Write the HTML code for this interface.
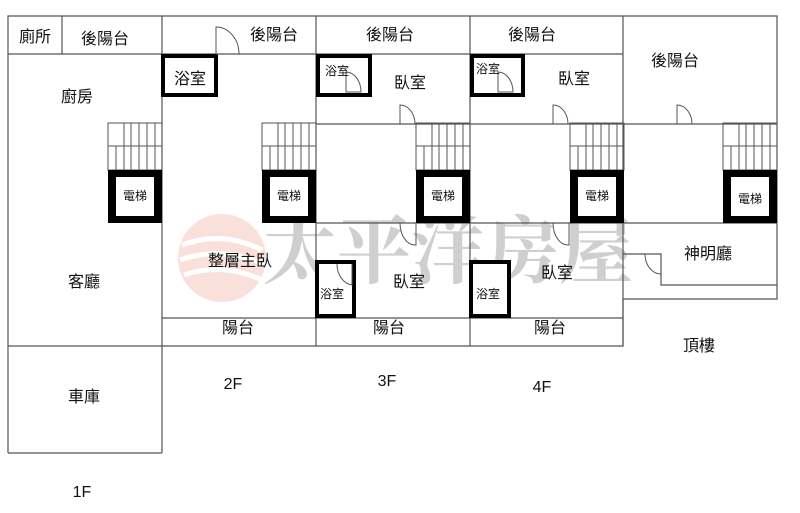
<!DOCTYPE html>
<html><head><meta charset="utf-8"><style>
html,body{margin:0;padding:0;background:#fff;}
svg{display:block;}
text{font-family:"Liberation Sans","Noto Sans CJK TC",sans-serif;fill:#111;text-anchor:middle;dominant-baseline:middle;}
</style></head><body>
<svg width="800" height="513" viewBox="0 0 800 513" xmlns="http://www.w3.org/2000/svg">
<g opacity="0.4">
<circle cx="222" cy="258" r="44" fill="#f3b3a8"/>
<path d="M182 245 Q222 230 262 250 M180 260 Q222 245 266 265 M184 275 Q222 262 262 280" stroke="#fff" stroke-width="5" fill="none"/>
</g>
<text x="448" y="258" style="font-family:'Noto Serif CJK SC','Liberation Serif',serif;font-size:74px;fill:#c4c4c4;opacity:0.8;font-weight:bold">太平洋房屋</text>

<g stroke="#555" stroke-width="1.2" fill="none">
<polyline points="8,453 8,16 777,16 777,299 623,299 623,346 162,346"/>
<line x1="8" y1="453" x2="162" y2="453"/>
<line x1="162" y1="16" x2="162" y2="453"/>
<line x1="8" y1="346" x2="162" y2="346"/>
<line x1="8" y1="54" x2="623" y2="54"/>
<line x1="62" y1="16" x2="62" y2="54"/>
<line x1="316" y1="16" x2="316" y2="346"/>
<line x1="470" y1="16" x2="470" y2="346"/>
<line x1="623" y1="16" x2="623" y2="346"/>
<line x1="162" y1="318" x2="623" y2="318"/>
<line x1="316" y1="124" x2="777" y2="124"/>
<line x1="316" y1="223" x2="777" y2="223"/>
<polyline points="623,254 661,254 661,285 777,285"/>
</g>

<g stroke="#555" stroke-width="1" fill="none">
<g id="st">
<rect x="108" y="123" width="54" height="47"/>
<line x1="108" y1="146" x2="162" y2="146"/>
<line x1="124" y1="123" x2="124" y2="170"/><line x1="131" y1="123" x2="131" y2="170"/>
<line x1="139" y1="123" x2="139" y2="170"/><line x1="147" y1="123" x2="147" y2="170"/>
<line x1="155" y1="123" x2="155" y2="170"/><line x1="116" y1="146" x2="116" y2="170"/>
</g>
<use href="#st" x="154"/><use href="#st" x="308"/><use href="#st" x="462"/><use href="#st" x="615"/>
</g>
<g>
<g id="el"><rect x="108" y="170" width="54" height="53" fill="#000"/><rect x="116" y="177" width="38" height="39" fill="#fff"/></g>
<use href="#el" x="154"/><use href="#el" x="308"/><use href="#el" x="462"/><use href="#el" x="615"/>
</g>
<g stroke="#000" stroke-width="4" fill="#fff">
<rect x="163" y="56" width="53" height="39"/>
<rect x="318" y="56" width="52" height="39"/>
<rect x="472" y="56" width="51" height="39"/>
<rect x="317" y="262" width="37" height="54"/>
<rect x="471" y="262" width="38" height="54"/>
</g>
<g stroke="#555" stroke-width="1" fill="none">
<path d="M216 54 V27 A23 27 0 0 1 239 54 Z"/>
<path d="M346 92 V72 A15 20 0 0 1 361 92 Z"/>
<path d="M498 92 V72 A15 20 0 0 1 513 92 Z"/>
<path d="M400 124 V105 A15 19 0 0 1 415 124 Z"/>
<path d="M553 124 V105 A15 19 0 0 1 568 124 Z"/>
<path d="M677 124 V105 A15 19 0 0 1 692 124 Z"/>
<path d="M416 223 V245 A15 22 0 0 1 400 223 Z"/>
<path d="M569 223 V245 A15 22 0 0 1 553 223 Z"/>
<path d="M352 264 V285 A17 21 0 0 1 337 264"/>
<path d="M661 254 V274 A16 20 0 0 1 645 254"/>
</g>

<g style="font-size:16px">
<text x="35" y="38">廁所</text>
<text x="105" y="40">後陽台</text>
<text x="274" y="36">後陽台</text>
<text x="390" y="36">後陽台</text>
<text x="532" y="36">後陽台</text>
<text x="675" y="62">後陽台</text>
<text x="77" y="98">廚房</text>
<text x="190" y="80">浴室</text>
<text x="410" y="84">臥室</text>
<text x="574" y="80">臥室</text>
<text x="240" y="262">整層主臥</text>
<text x="409" y="283">臥室</text>
<text x="557" y="274">臥室</text>
<text x="238" y="329">陽台</text>
<text x="389" y="329">陽台</text>
<text x="550" y="329">陽台</text>
<text x="84" y="283">客廳</text>
<text x="84" y="398">車庫</text>
<text x="708" y="255">神明廳</text>
<text x="699" y="347">頂樓</text>
<text x="233" y="385">2F</text>
<text x="387" y="382">3F</text>
<text x="542" y="388">4F</text>
<text x="82" y="493">1F</text>
</g>
<g style="font-size:12px">
<text x="135" y="197">電梯</text>
<text x="289" y="197">電梯</text>
<text x="443" y="197">電梯</text>
<text x="597" y="197">電梯</text>
<text x="750" y="200">電梯</text>
<text x="337" y="72">浴室</text>
<text x="488" y="70">浴室</text>
<text x="332" y="295">浴室</text>
<text x="488" y="295">浴室</text>
</g>
</svg>
</body></html>
